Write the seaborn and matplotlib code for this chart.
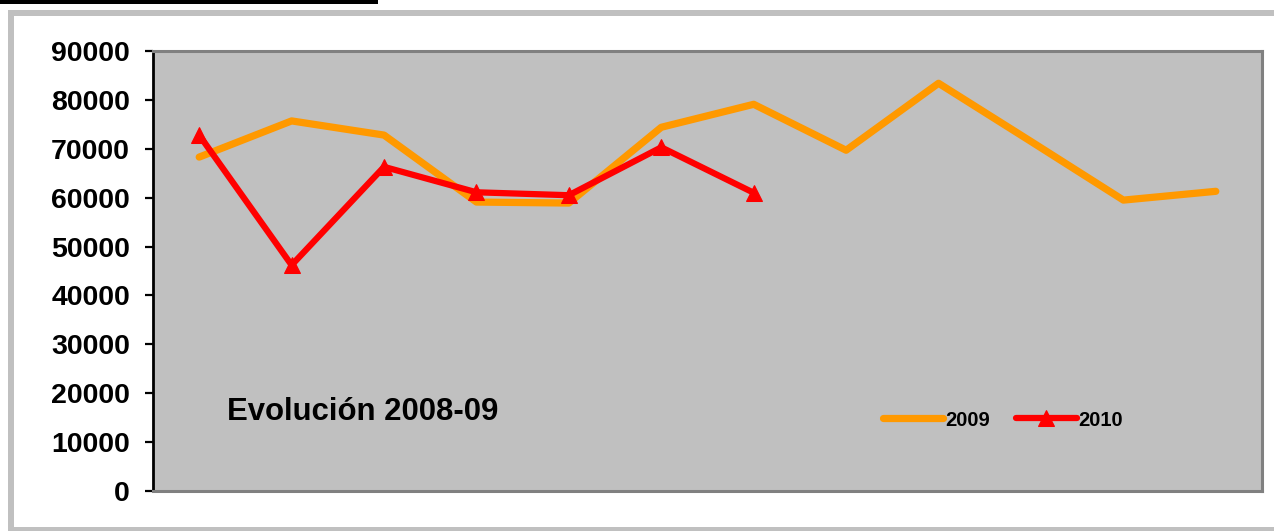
import matplotlib
matplotlib.use("Agg")
import matplotlib.pyplot as plt
import matplotlib.patches as patches
import seaborn as sns

# Data
meses = list(range(12))
serie_2009 = [68300, 75700, 72800, 59100, 58900, 74400, 79100, 69700, 83400, 71500, 59500, 61300]
serie_2010 = [72800, 46200, 66300, 61100, 60500, 70300, 61000]
yticks = list(range(0, 90001, 10000))

sns.set_style("white")
plt.rcParams['font.family'] = ['Liberation Sans', 'DejaVu Sans']
plt.rcParams['text.color'] = 'black'
plt.rcParams['ytick.color'] = 'black'
plt.rcParams['xtick.color'] = 'black'

W, H = 1274, 531
fig = plt.figure(figsize=(W / 100, H / 100), dpi=100)

# outer frame (left, top, bottom edges) and black bar
marco = '#c0c0c0'
for (x0, y0, w, h) in [(8, 10, 6, 521), (8, 10, W, 6), (8, 527, W, 4)]:
    fig.patches.append(patches.Rectangle((x0 / W, 1 - (y0 + h) / H), w / W, h / H,
                                         transform=fig.transFigure, facecolor=marco,
                                         edgecolor='none', zorder=0))
fig.patches.append(patches.Rectangle((0, 1 - 4 / H), 378 / W, 4 / H, transform=fig.transFigure,
                                     facecolor='black', edgecolor='none', zorder=0))

ax = fig.add_axes([153 / W, (H - 491) / H, (1262 - 153) / W, (491 - 51) / H])
ax.set_facecolor('#c0c0c0')

sns.lineplot(x=meses, y=serie_2009, ax=ax, color='#ff9900', linewidth=5.2, label='2009',
             solid_capstyle='round')
sns.lineplot(x=meses[:len(serie_2010)], y=serie_2010, ax=ax, color='#ff0000', linewidth=4.5,
             marker='^', markersize=12, markeredgecolor='#ff0000', label='2010')

ax.set_xlim(-0.5, 11.5)
ax.set_ylim(0, 90000)
ax.set_yticks(yticks)
ax.set_yticklabels([str(v) for v in yticks], fontsize=20.5, fontweight='bold')
ax.set_xticks([])
ax.tick_params(axis='y', direction='out', length=6, width=1.6, color='black', pad=10.5, left=True)

for s in ['top', 'right', 'bottom']:
    ax.spines[s].set_color('#808080')
    ax.spines[s].set_linewidth(2.2)
ax.spines['left'].set_color('black')
ax.spines['left'].set_linewidth(2)

fig.text(227 / W, (H - 412) / H, 'Evolución 2008-09', fontsize=22.4,
         fontweight='bold', va='center', ha='left', color='black')

ax.legend(loc='center', bbox_to_anchor=((1003 - 153) / (1262 - 153), (491 - 420) / (491 - 51)),
          ncol=2, frameon=False, prop={'weight': 'bold', 'size': 14.5},
          handlelength=3.0, handletextpad=0.1, columnspacing=1.3)

fig.savefig('out.png', dpi=100)
